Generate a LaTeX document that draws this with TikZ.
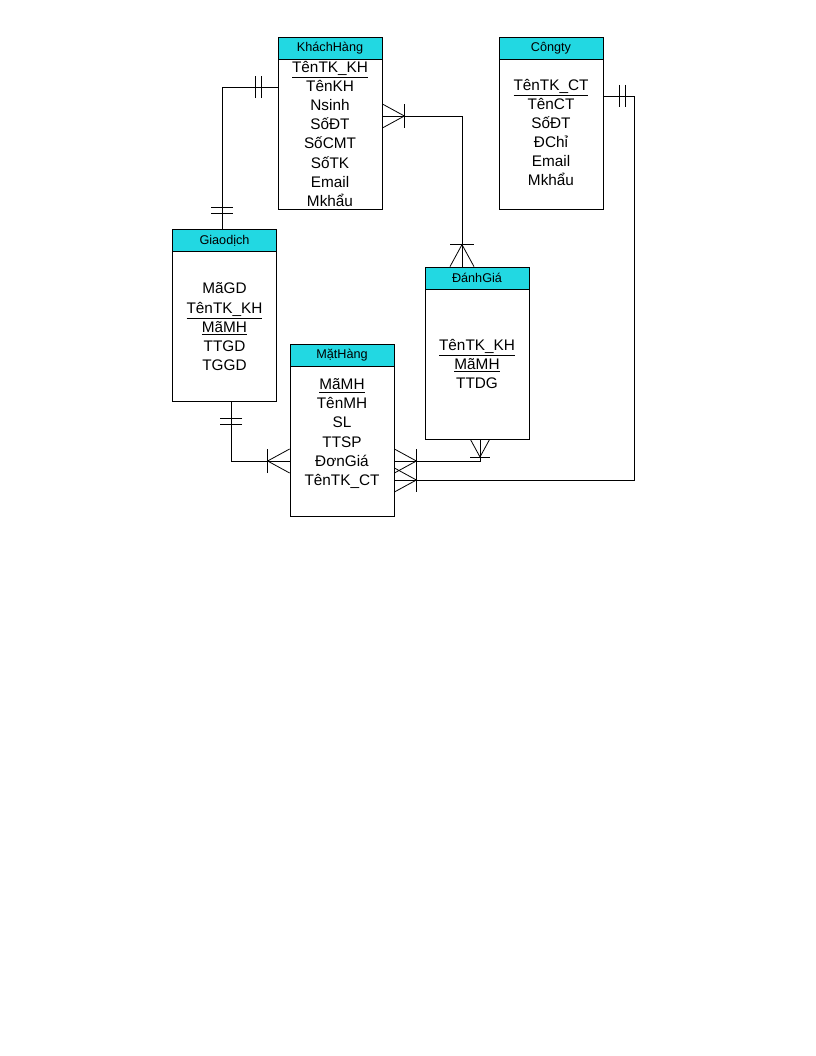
\documentclass[tikz,border=0pt]{standalone}
\usepackage{fontspec}
\setmainfont{Liberation Sans}
\usepackage{xcolor}
\usetikzlibrary{positioning}
\definecolor{hdcyan}{RGB}{34,216,226}

\begin{document}
\begin{tikzpicture}[
        x=0.75pt, y=-0.75pt,
        line width=0.6pt,
        entity/.style={draw, minimum width=78pt, minimum height=129pt, inner sep=0pt},
        head/.style={draw, fill=hdcyan, minimum width=78pt, minimum height=16.5pt,
                     inner sep=0pt, font=\fontsize{9.5}{11}\selectfont},
        attrs/.style={align=center, inner sep=0pt,
                      font=\fontsize{11.5}{14.3}\selectfont},
        crow/.pic={\draw (0,-12) -- (22,0) -- (0,12); \draw (22,-12) -- (22,12);},
        twobar/.pic={\draw (16,-11) -- (16,11) (22,-11) -- (22,11);}
    ]
        \path[fill=white] (0,0) rectangle (816,1056);
        \useasboundingbox (0,0) rectangle (816,1056);

        % entities
        \node[entity] (kh) at (330,123) {};
        \node[head, below=0pt of kh.north] (khh) {KháchHàng};
        \node[attrs, below=1.3pt of khh] (kha)
            {\underline{TênTK\_KH}\\TênKH\\Nsinh\\SốĐT\\SốCMT\\SốTK\\Email\\Mkhẩu};

        \node[entity] (ct) at (551,123.5) {};
        \node[head, below=0pt of ct.north] (cth) {Côngty};
        \node[attrs, below=14pt of cth] (cta)
            {\underline{TênTK\_CT}\\TênCT\\SốĐT\\ĐChỉ\\Email\\Mkhẩu};

        \node[entity] (gd) at (224.5,315.5) {};
        \node[head, below=0pt of gd.north] (gdh) {Giaodịch};
        \node[attrs, below=23pt of gdh] (gda)
            {MãGD\\\underline{TênTK\_KH}\\\underline{MãMH}\\TTGD\\TGGD};

        \node[entity] (mh) at (342,430) {};
        \node[head, below=0pt of mh.north] (mhh) {MặtHàng};
        \node[attrs, below=9pt of mhh] (mha)
            {\underline{MãMH}\\TênMH\\SL\\TTSP\\ĐơnGiá\\TênTK\_CT};

        \node[entity] (dg) at (477,353) {};
        \node[head, below=0pt of dg.north] (dgh) {ĐánhGiá};
        \node[attrs, below=37pt of dgh] (dga)
            {\underline{TênTK\_KH}\\\underline{MãMH}\\TTDG};

        % relationships
        \coordinate (b1) at (222,87);
        \draw (kh.west |- b1) -- (b1) -- (gd.north -| b1);
        \pic[rotate=180] at (kh.west |- b1) {twobar};
        \pic[rotate=90] at (gd.north -| b1) {twobar};

        \coordinate (b2) at (462,116);
        \draw (kh.east |- b2) -- (b2) -- (dg.north -| b2);
        \pic at (kh.east |- b2) {crow};
        \pic[rotate=90] at (dg.north -| b2) {crow};

        \coordinate (b3) at (231,461);
        \draw (gd.south -| b3) -- (b3) -- (mh.west |- b3);
        \pic[rotate=-90] at (gd.south -| b3) {twobar};
        \pic[rotate=180] at (mh.west |- b3) {crow};

        \coordinate (b4) at (480,461);
        \draw (mh.east |- b4) -- (b4) -- (dg.south -| b4);
        \pic at (mh.east |- b4) {crow};
        \pic[rotate=-90, scale=0.8] at (dg.south -| b4) {crow};

        \coordinate (b5) at (634,480);
        \coordinate (b6) at (634,96);
        \draw (mh.east |- b5) -- (b5) -- (b6) -- (ct.east |- b6);
        \pic at (mh.east |- b5) {crow};
        \pic at (ct.east |- b6) {twobar};
    \end{tikzpicture}
\end{document}
